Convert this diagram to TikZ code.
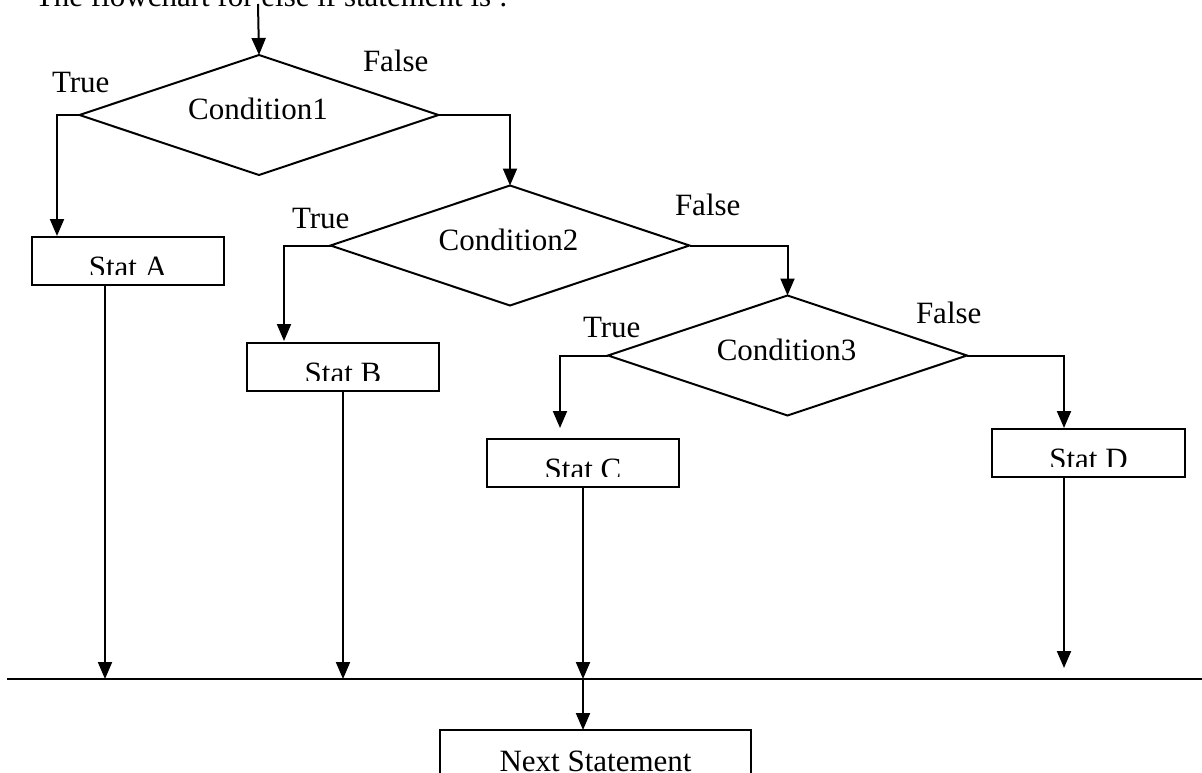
\documentclass[tikz,border=0pt]{standalone}
\usepackage{fontspec}
\setmainfont{Liberation Serif}
\usetikzlibrary{shapes.geometric,arrows.meta,calc}
\begin{document}
\begin{tikzpicture}[x=1pt,y=-1pt,line width=2pt,
  every node/.style={font=\fontsize{31}{37}\selectfont},
  txt/.style={anchor=base west,inner sep=0pt,outer sep=0pt},
  dia/.style={draw,diamond,minimum width=359pt,minimum height=120pt,inner sep=0pt,outer sep=0pt},
  stbox/.style={draw,rectangle,minimum width=192pt,minimum height=48pt,inner sep=0pt,outer sep=0pt},
  arr/.style={-{Triangle[length=17pt,width=14pt]}}]
\clip (0,0) rectangle (1202,773);
% title
\node[txt] (title) at (35,7) {The flowchart for else if statement is :};
% diamonds
\node[dia] (c1) at (259,115) {};
\node[dia] (c2) at (510,245.5) {};
\node[dia] (c3) at (787.5,355.5) {};
\node[txt,anchor=base] (t1) at (258,120) {Condition1};
\node[txt,anchor=base] (t2) at (508.5,250) {Condition2};
\node[txt,anchor=base] (t3) at (786.5,360) {Condition3};
% boxes
\node[stbox] (sA) at (128,261) {};
\node[stbox] (sB) at (343,367) {};
\node[stbox] (sC) at (583,463) {};
\node[stbox,minimum width=193pt] (sD) at (1088.5,453) {};
\begin{scope}
  \clip (sA.north west) rectangle ($(sA.east)+(0,13)$);
  \node[txt,anchor=base] (tA) at ($(sA.north)+(0,40)$) {Stat A};
\end{scope}
\begin{scope}
  \clip (sB.north west) rectangle ($(sB.east)+(0,13)$);
  \node[txt,anchor=base] (tB) at ($(sB.north)+(0,40)$) {Stat B};
\end{scope}
\begin{scope}
  \clip (sC.north west) rectangle ($(sC.east)+(0,13)$);
  \node[txt,anchor=base] (tC) at ($(sC.north)+(0,40)$) {Stat C};
\end{scope}
\begin{scope}
  \clip (sD.north west) rectangle ($(sD.east)+(0,13)$);
  \node[txt,anchor=base] (tD) at ($(sD.north)+(0,40)$) {Stat D};
\end{scope}
\node[draw,rectangle,minimum width=311pt,minimum height=60pt,anchor=north,inner sep=0pt,outer sep=0pt] (nx) at (595.5,730) {};
\node[txt,anchor=base] (tnx) at (595.5,771) {Next Statement};
% labels
\node[txt] (T1) at (52,93) {True};
\node[txt] (F1) at (363,72) {False};
\node[txt] (T2) at (292,228) {True};
\node[txt] (F2) at (675,215) {False};
\node[txt] (T3) at (583,337) {True};
\node[txt] (F3) at (916,323) {False};
% horizontal junction line
\coordinate (hl) at (7,679);
\coordinate (hr) at (1202,679);
\draw (hl) -- (hr);
% connectors
\coordinate (start) at (258,4);
\draw[arr] (start) -- (c1.north);
\draw[arr] (c1.west) -| ($(sA.north west)+(25,-1)$);
\draw[arr] (c1.east) -| (c2.north);
\draw[arr] (c2.west) -| ($(sB.north west)+(37,-2)$);
\draw[arr] (c2.east) -| (c3.north);
\draw[arr] (c3.west) -| ($(sC.north west)+(73,-11)$);
\draw[arr] (c3.east) -| ($(sD.north west)+(72,-1)$);
\coordinate (aout) at ($(sA.south west)+(73,0)$);
\draw[arr] (aout) -- (aout |- hl);
\draw[arr] (sB.south) -- (sB.south |- hl);
\draw[arr] (sC.south) -- (sC.south |- hl);
\coordinate (dout) at ($(sD.south west)+(72,0)$);
\coordinate (dend) at ($(dout |- hl)+(0,-11)$);
\draw[arr] (dout) -- (dend);
\draw[arr] (sC.south |- hl) -- (sC.south |- nx.north);
\end{tikzpicture}
\end{document}
